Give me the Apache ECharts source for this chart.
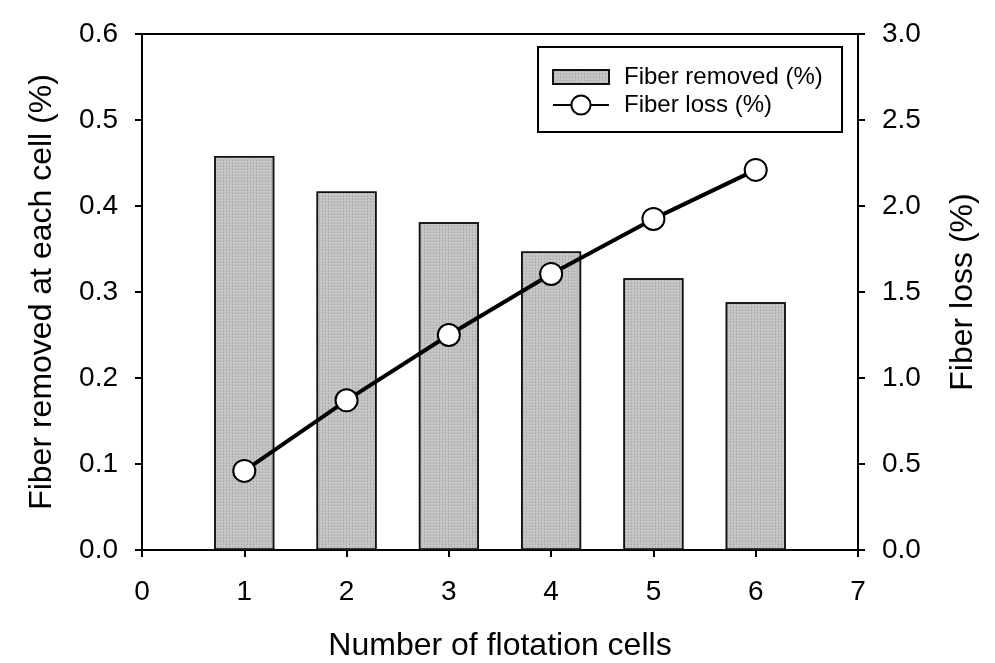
<!DOCTYPE html>
<html>
<head>
<meta charset="utf-8">
<script src="https://cdn.jsdelivr.net/npm/echarts@6/dist/echarts.min.js"></script>
<style>
  html, body { margin: 0; padding: 0; background: #fff; }
  #chart { width: 995px; height: 663px; }
</style>
</head>
<body>
<div id="chart"></div>
<script>
// values
const cells = [1, 2, 3, 4, 5, 6]
const fiberRemoved = [0.458, 0.417, 0.381, 0.347, 0.316, 0.288]
const fiberLoss = [0.46, 0.87, 1.25, 1.605, 1.925, 2.21]
const leftTicks = [0, 0.6, 0.1]
const rightTicks = [0, 3, 0.5]

const font = "Liberation Sans, Arial, sans-serif"

const chart = echarts.init(document.getElementById("chart"))

const legendText = { fontSize: 24, color: "#000", fontFamily: font, padding: [0, 0, 0, 10] }

const option = {
  backgroundColor: "#fff",
  animation: false,
  textStyle: { fontFamily: font, color: "#000" },
  grid: {
    left: 142,
    right: 137,
    top: 34,
    bottom: 113,
    outerBoundsMode: "none",
    show: true,
    borderColor: "#000",
    borderWidth: 2,
  },
  // legend box border
  graphic: [
    {
      type: "rect",
      shape: { x: 538, y: 47, width: 304, height: 85 },
      style: { fill: "#fff", stroke: "#000", lineWidth: 2 },
      z: 0,
    },
  ],
  legend: [
    {
      left: 552,
      top: 65,
      padding: 0,
      itemWidth: 56,
      itemHeight: 14,
      icon: "rect",
      textStyle: legendText,
      data: ["Fiber removed (%)"],
      z: 10,
    },
    {
      left: 552,
      top: 93,
      padding: 0,
      itemWidth: 56,
      itemHeight: 24,
      textStyle: legendText,
      data: ["Fiber loss (%)"],
      z: 10,
    },
  ],
  xAxis: {
    type: "value",
    min: 0,
    max: 7,
    interval: 1,
    name: "Number of flotation cells",
    nameLocation: "middle",
    nameGap: 80,
    nameTextStyle: { fontSize: 32, color: "#000" },
    axisLine: { lineStyle: { color: "#000", width: 2 } },
    axisTick: { show: true, length: 7, lineStyle: { color: "#000", width: 2 } },
    axisLabel: { fontSize: 28, color: "#000", margin: 28 },
    splitLine: { show: false },
  },
  yAxis: [
    {
      type: "value",
      min: leftTicks[0],
      max: leftTicks[1],
      interval: leftTicks[2],
      name: "Fiber removed at each cell (%)",
      nameLocation: "middle",
      nameGap: 84,
      nameTextStyle: { fontSize: 32, color: "#000" },
      axisLine: { show: true, lineStyle: { color: "#000", width: 2 } },
      axisTick: { show: true, length: 7, lineStyle: { color: "#000", width: 2 } },
      axisLabel: { fontSize: 28, color: "#000", margin: 24, formatter: v => v.toFixed(1) },
      splitLine: { show: false },
    },
    {
      type: "value",
      position: "right",
      min: rightTicks[0],
      max: rightTicks[1],
      interval: rightTicks[2],
      name: "Fiber loss (%)",
      nameLocation: "middle",
      nameGap: 89,
      nameRotate: 90,
      nameTextStyle: { fontSize: 32, color: "#000" },
      axisLine: { show: true, lineStyle: { color: "#000", width: 2 } },
      axisTick: { show: true, length: 7, lineStyle: { color: "#000", width: 2 } },
      axisLabel: { fontSize: 28, color: "#000", margin: 24, formatter: v => v.toFixed(1) },
      splitLine: { show: false },
    },
  ],
  series: [
    {
      name: "Fiber removed (%)",
      type: "bar",
      yAxisIndex: 0,
      barWidth: 60,
      data: cells.map((c, i) => [c, fiberRemoved[i]]),
      itemStyle: {
        color: "#c6c6c6",
        borderColor: "#111",
        borderWidth: 1.5,
        decal: {
          symbol: "circle",
          symbolSize: 0.6,
          color: "rgba(70,70,70,0.45)",
          dashArrayX: [3, 0],
          dashArrayY: [2, 1],
          rotation: 0,
        },
      },
    },
    {
      name: "Fiber loss (%)",
      type: "line",
      yAxisIndex: 1,
      data: cells.map((c, i) => [c, fiberLoss[i]]),
      symbol: "circle",
      symbolSize: 22,
      lineStyle: { color: "#000", width: 4 },
      itemStyle: { color: "#fff", borderColor: "#000", borderWidth: 2 },
      z: 5,
    },
  ],
}

chart.setOption(option)
</script>
</body>
</html>
